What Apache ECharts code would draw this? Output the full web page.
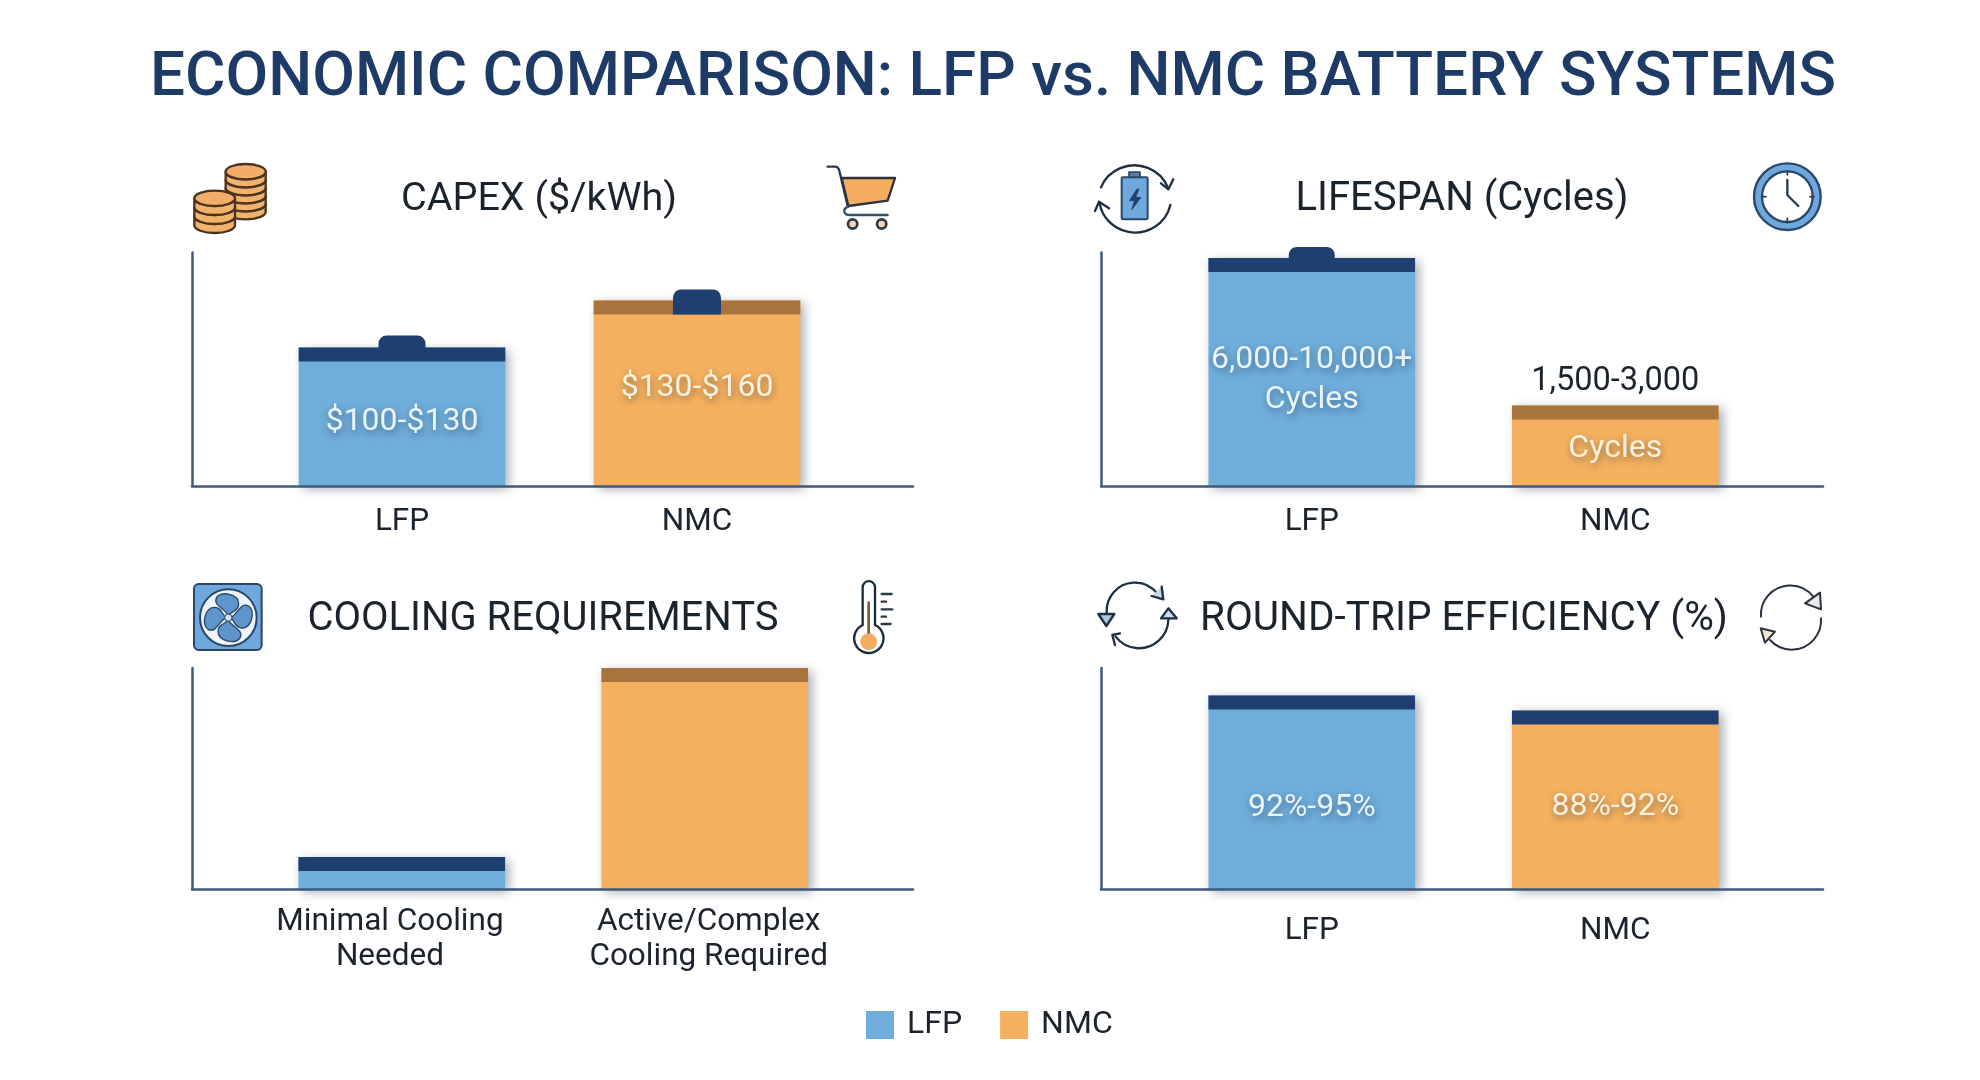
<!DOCTYPE html>
<html>
<head>
<meta charset="utf-8">
<style>html,body{margin:0;padding:0;background:#fff}#c{width:1980px;height:1080px}</style>
<script src="https://cdn.jsdelivr.net/npm/echarts@6/dist/echarts.min.js"></script>
</head>
<body>
<div id="c"></div>
<script>
// ---------- data ----------
const seriesNames = ['LFP', 'NMC'];
const capexCategories = ['LFP', 'NMC'];
const capexValues = [118.6, 158.9];
const capexLabels = ['$100-$130', '$130-$160'];
const lifespanCategories = ['LFP', 'NMC'];
const lifespanValues = [9764, 3448];
const lifespanLabels = ['6,000-10,000+\nCycles', 'Cycles'];
const lifespanAbove = ['', '1,500-3,000'];
const coolingCategories = ['Minimal Cooling\nNeeded', 'Active/Complex\nCooling Required'];
const coolingValues = [14.5, 100];
const coolingLabels = ['', ''];
const efficiencyCategories = ['LFP', 'NMC'];
const efficiencyValues = [87.6, 80.8];
const efficiencyLabels = ['92%-95%', '88%-92%'];
const mainTitle = 'ECONOMIC COMPARISON: LFP vs. NMC BATTERY SYSTEMS';

// ---------- layout and style ----------
const FONT = 'Roboto';
const BLUE = '#6fadda', ORANGE = '#f4b05f', NAVY = '#1f3f70', BROWN = '#a8743b';
const INK = '#1b232d', AXIS = '#3f5a7a';
const BAR_W = 206.6, CAP_H = 14;
const panels = [
  { title: 'CAPEX ($/kWh)', tx: 539, ty: 200, size: 39.5, cats: capexCategories, vals: capexValues, labels: capexLabels, above: ['', ''],
    max: 200, top: 252.5, base: 486, fl: 192, fr: 913, bl: 254.5, bw: 590, margin: 18.5,
    caps: [NAVY, BROWN], tabs: [[47, 12], [48, 11]], off: [5, -5] },
  { title: 'LIFESPAN (Cycles)', tx: 1462, ty: 200, size: 40, cats: lifespanCategories, vals: lifespanValues, labels: lifespanLabels, above: lifespanAbove,
    max: 10000, top: 252.5, base: 486, fl: 1101, fr: 1823, bl: 1160, bw: 607, margin: 18.5,
    caps: [NAVY, BROWN], tabs: [[46, 11], null], off: [8, 3] },
  { title: 'COOLING REQUIREMENTS', tx: 543, ty: 620, size: 40, cats: coolingCategories, vals: coolingValues, labels: coolingLabels, above: ['', ''],
    max: 100, top: 668, base: 889, fl: 192, fr: 913, bl: 250.25, bw: 606, margin: 15.5, labelBand: [230.6, 637.4],
    caps: [NAVY, BROWN], tabs: [null, null], off: [0, 0] },
  { title: 'ROUND-TRIP EFFICIENCY (%)', tx: 1464, ty: 620, size: 40.5, cats: efficiencyCategories, vals: efficiencyValues, labels: efficiencyLabels, above: ['', ''],
    max: 100, top: 668, base: 889, fl: 1101, fr: 1823, bl: 1160, bw: 607, margin: 24.5,
    caps: [NAVY, NAVY], tabs: [null, null], off: [16, 7.5] }
];

const grid = [], xAxis = [], yAxis = [], series = [];
const title = [{ text: mainTitle, left: 993, top: 79, padding: 0, textAlign: 'center', textVerticalAlign: 'middle',
  textStyle: { fontFamily: FONT, fontWeight: 500, fontSize: 62, color: '#1e3b67' } }];

function addGrid(left, right, top, base) {
  grid.push({ left: left, top: top, width: right - left, height: base - top, containLabel: false });
  return grid.length - 1;
}
const hiddenValue = (g, max) => ({ type: 'value', gridIndex: g, min: 0, max: max, show: false });

panels.forEach(function (p) {
  title.push({ text: p.title, left: p.tx, top: p.ty, padding: 0, textAlign: 'center', textVerticalAlign: 'middle',
    textStyle: { fontFamily: FONT, fontWeight: 400, fontSize: p.size, color: INK } });

  // L-shaped axis frame, longer than the band area of the bars
  const f = addGrid(p.fl, p.fr, p.top, p.base);
  const frameAxis = { type: 'value', gridIndex: f, min: 0, max: 1, z: 6,
    axisLine: { show: true, onZero: false, lineStyle: { color: AXIS, width: 2.5 } },
    axisTick: { show: false }, axisLabel: { show: false }, splitLine: { show: false } };
  xAxis.push(Object.assign({}, frameAxis));
  yAxis.push(Object.assign({}, frameAxis));

  const labelStyle = { show: true, margin: p.margin, fontFamily: FONT, fontSize: 31.5, color: INK, lineHeight: 35, interval: 0 };

  // band area holding the bars
  const g = addGrid(p.bl, p.bl + p.bw, p.top, p.base);
  const xi = xAxis.length, yi = yAxis.length;
  xAxis.push({ type: 'category', gridIndex: g, data: p.cats,
    axisLine: { show: false }, axisTick: { show: false },
    axisLabel: p.labelBand ? { show: false } : labelStyle });
  yAxis.push(hiddenValue(g, p.max));

  // separate label axis where the captions sit off the bar centres
  if (p.labelBand) {
    const l = addGrid(p.labelBand[0], p.labelBand[0] + p.labelBand[1], p.top, p.base);
    xAxis.push({ type: 'category', gridIndex: l, data: p.cats,
      axisLine: { show: false }, axisTick: { show: false }, axisLabel: labelStyle });
    yAxis.push(hiddenValue(l, p.max));
  }

  seriesNames.forEach(function (name, i) {
    const data = p.vals.map(function (v, k) {
      if (k !== i) return '-';
      return { value: v, label: { show: !!p.labels[k], formatter: p.labels[k], position: 'inside', offset: [0, p.off[k]],
        fontFamily: FONT, fontSize: 32, lineHeight: 40, color: i === 0 ? '#e8f5fc' : '#fdf1dd',
        textBorderWidth: 0, textShadowColor: 'rgba(20,30,50,0.45)', textShadowBlur: 7, textShadowOffsetX: 1, textShadowOffsetY: 3 } };
    });
    series.push({ name: name, type: 'bar', xAxisIndex: xi, yAxisIndex: yi, barWidth: BAR_W, barGap: '-100%', data: data, z: 2,
      silent: true, animation: false,
      itemStyle: { color: i === 0 ? BLUE : ORANGE, shadowColor: 'rgba(30,40,60,0.38)', shadowBlur: 10, shadowOffsetX: 4, shadowOffsetY: 3 } });
  });

  // dark band on each bar top, optional tab and caption above the bar
  series.push({ name: p.title + ' cap', type: 'custom', xAxisIndex: xi, yAxisIndex: yi, z: 3, silent: true, animation: false,
    data: p.vals.map(function (v, k) { return [k, v]; }),
    renderItem: function (params, api) {
      const k = api.value(0), c = api.coord([k, api.value(1)]);
      const x = c[0] - BAR_W / 2, y = c[1];
      const kids = [{ type: 'rect', shape: { x: x, y: y, width: BAR_W, height: CAP_H }, style: { fill: p.caps[k] } }];
      const tab = p.tabs[k];
      if (tab) kids.push({ type: 'rect', shape: { x: c[0] - tab[0] / 2, y: y - tab[1], width: tab[0], height: tab[1] + (k === 1 ? CAP_H : 1), r: [8, 8, 0, 0] }, style: { fill: NAVY } });
      if (p.above[k]) kids.push({ type: 'text', x: c[0], y: y - 7.5, style: { text: p.above[k], fill: INK, fontFamily: FONT, fontSize: 32.5, align: 'center', verticalAlign: 'bottom' } });
      return { type: 'group', children: kids };
    } });
});

// ---------- icons, in a 3x local space ----------
const DARK = '#1f2f42', LINE = '#2a4668';
const stroke = (d, w, c, f) => ({ type: 'path', shape: { pathData: d }, style: { stroke: c || DARK, lineWidth: w || 7, fill: f || 'none', lineCap: 'round', lineJoin: 'round' } });
const circle = (cx, cy, r, f, c, w) => ({ type: 'circle', shape: { cx: cx, cy: cy, r: r }, style: { fill: f, stroke: c, lineWidth: w || 6 } });
const icon = (x, y, children) => ({ type: 'group', x: x, y: y, scaleX: 1 / 3, scaleY: 1 / 3, children: children });

function coinStack(cx, topY, n, step, rx, ry) {
  const out = [], c = '#4a3420', f = '#f1b26c';
  for (let i = n - 1; i >= 0; i--) {
    const y = topY + i * step;
    out.push(stroke('M' + (cx - rx) + ' ' + y + ' A' + rx + ' ' + ry + ' 0 0 0 ' + (cx + rx) + ' ' + y + ' V' + (y + step) + ' A' + rx + ' ' + ry + ' 0 0 1 ' + (cx - rx) + ' ' + (y + step) + ' Z', 7, c, f));
  }
  out.push({ type: 'ellipse', shape: { cx: cx, cy: topY, rx: rx, ry: ry }, style: { fill: '#f3ad68', stroke: c, lineWidth: 7 } });
  return out;
}
const blade = 'M145 135 C130 112 98 106 110 82 C126 62 176 72 176 102 C176 122 156 124 145 135 Z';
const fanBlades = [0, 1, 2, 3].map(i => ({ type: 'path', shape: { pathData: blade }, originX: 145, originY: 143, rotation: -i * Math.PI / 2,
  style: { fill: '#5f95cb', stroke: LINE, lineWidth: 4 } }));

const iconGroups = [
  icon(180, 150, coinStack(197, 65, 5, 24, 60, 23).concat(coinStack(104, 145, 3, 27, 61, 23))),
  icon(815, 150, [
    stroke('M38 50 H60 Q70 50 73 62 L98 168', 7, '#2a3a4c'),
    stroke('M80 84 L240 84 L218 152 L100 168 Z', 7, '#2a3140', '#f5ad5f'),
    stroke('M100 170 Q85 176 88 185 Q90 195 105 195 H218', 7, '#34506c'),
    circle(113, 222, 14, '#f3d7b5', '#2d3a46', 8), circle(200, 222, 14, '#f3d7b5', '#2d3a46', 8)
  ]),
  icon(1085, 150, [
    stroke('M48 112 A108 105 0 0 1 250 116'), stroke('M228 100 L250 118 L265 88'),
    stroke('M256 165 A108 105 0 0 1 44 160'), stroke('M30 183 L42 155 L72 175'),
    stroke('M132 82 V66 H165 V82', 5, LINE, '#5b7b9b'),
    { type: 'rect', shape: { x: 110, y: 82, width: 78, height: 126, r: 4 }, style: { fill: '#6fa8dc', stroke: LINE, lineWidth: 6 } },
    stroke('M155 118 L133 152 L148 152 L140 180 L168 142 L152 142 L162 118 Z', 2, '#1f3f6d', '#1f3f6d')
  ]),
  icon(1740, 150, [
    circle(142, 140, 100, '#6fa8dc', '#2a4668', 7), circle(142, 140, 76, '#ffffff', '#2a4668', 7),
    stroke('M142 65 V75 M210 140 H222 M142 205 V218 M65 140 H78', 5, '#2a3a4c'),
    stroke('M142 90 V135 L175 168', 7, '#2a3a4c')
  ]),
  icon(180, 570, [
    { type: 'rect', shape: { x: 42, y: 42, width: 203, height: 198, r: 14 }, style: { fill: '#6fa8dc', stroke: LINE, lineWidth: 6 } },
    circle(145, 143, 85, '#eef4f8', LINE, 6)
  ].concat(fanBlades, [circle(145, 143, 11, '#cfe0ee', LINE, 3)])),
  icon(830, 570, [
    stroke('M98 165 V52 A18 18 0 0 1 135 52 V165 A44 44 0 1 1 98 165 Z', 7, '#1c2a38', '#ffffff'),
    stroke('M116 98 V195', 8, '#7a5a3a'),
    circle(116, 215, 24, '#f2b05f', '#d9a25f', 2),
    stroke('M155 72 H185 M155 95 H168 M155 118 H187 M155 140 H168 M155 162 H182', 7, '#2a3a4c')
  ]),
  icon(1085, 570, [
    stroke('M65 128 A85 85 0 0 1 218 72', 7), stroke('M200 78 L235 88 L230 50', 7, DARK, '#c8d8e8'),
    stroke('M40 132 H88 L64 168 Z', 7, DARK, '#b0c8e0'),
    stroke('M250 150 A88 88 0 0 1 92 200', 7), stroke('M228 145 H275 L250 115 Z', 7, DARK, '#c8dcf0'),
    stroke('M105 190 L82 195 L90 225', 7)
  ]),
  icon(1745, 570, [
    stroke('M48 140 A88 88 0 0 1 205 80', 6, '#2a3140'), stroke('M225 68 L228 118 L180 100 Z', 6, '#2a3140', '#e4ebe4'),
    stroke('M228 145 A88 88 0 0 1 75 210', 6, '#2a3140'), stroke('M47 175 L90 185 L60 218 Z', 6, '#2a3140', '#f0e6d2')
  ])
];

series.push({ name: 'icons', type: 'custom', coordinateSystem: 'none', silent: true, animation: false, z: 4, data: [[0]],
  renderItem: function () { return { type: 'group', children: iconGroups }; } });

const chart = echarts.init(document.getElementById('c'), null, { renderer: 'canvas', width: 1980, height: 1080 });
chart.setOption({
  backgroundColor: '#ffffff',
  animation: false,
  textStyle: { fontFamily: FONT },
  title: title,
  legend: { show: true, data: seriesNames, left: 861, top: 1004, itemWidth: 28, itemHeight: 28, itemGap: 38, icon: 'rect', selectedMode: false,
    itemStyle: { shadowBlur: 0, shadowOffsetX: 0, shadowOffsetY: 0, shadowColor: 'transparent' },
    textStyle: { fontFamily: FONT, fontSize: 32, color: INK, padding: [0, 0, 0, 8] } },
  grid: grid, xAxis: xAxis, yAxis: yAxis, series: series
});
</script>
</body>
</html>
